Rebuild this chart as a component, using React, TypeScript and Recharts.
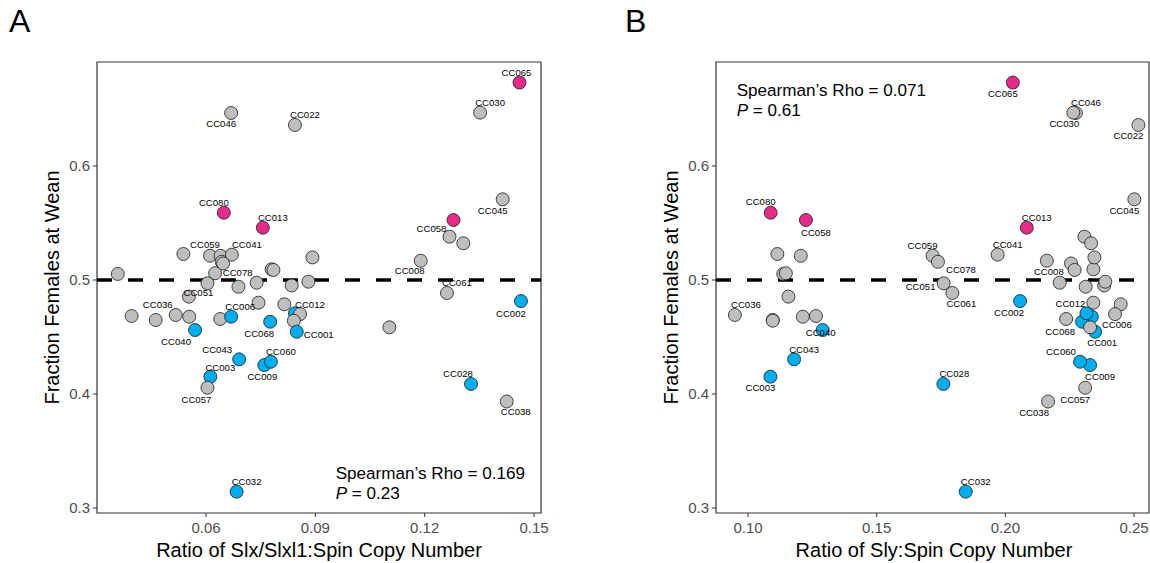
import React from "react";
import { ScatterChart, Scatter, XAxis, YAxis, ReferenceLine, ReferenceArea } from "recharts";

// Collaborative Cross strains — "" where the point carries no label
const strains = [
  "CC046", "CC022", "CC080", "CC013", "CC065", "CC030", "CC045", "CC058", "", "",
  "CC008", "CC061", "CC002", "CC038", "CC028", "CC032", "", "", "CC059", "",
  "CC041", "CC078", "", "", "CC051", "", "", "", "", "",
  "", "", "", "", "", "", "", "CC036", "", "",
  "CC006", "CC040", "CC068", "CC012", "", "", "CC001", "CC043", "CC003", "CC057",
  "CC009", "CC060", "",
];

// "female" = female-biased (pink), "male" = male-biased (blue), "ns" = grey
const groups = [
  "ns", "ns", "female", "female", "female", "ns", "ns", "female", "ns", "ns",
  "ns", "ns", "male", "ns", "male", "male", "ns", "ns", "ns", "ns",
  "ns", "ns", "ns", "ns", "ns", "ns", "ns", "ns", "ns", "ns",
  "ns", "ns", "ns", "ns", "ns", "ns", "ns", "ns", "ns", "ns",
  "male", "male", "male", "male", "ns", "ns", "male", "male", "male", "ns",
  "male", "male", "ns",
];

const slxRatio = [
  0.0669, 0.0844, 0.0649, 0.0756, 0.146, 0.1352, 0.1414, 0.1279, 0.1268, 0.1306,
  0.1189, 0.1261, 0.1464, 0.1425, 0.1327, 0.0684, 0.0358, 0.0538, 0.0611, 0.064,
  0.0671, 0.0643, 0.0647, 0.0625, 0.0604, 0.0553, 0.0689, 0.0739, 0.0744, 0.078,
  0.0785, 0.0815, 0.0835, 0.0881, 0.0892, 0.0396, 0.0462, 0.0517, 0.0554, 0.0639,
  0.0669, 0.057, 0.0776, 0.0844, 0.0858, 0.0841, 0.0849, 0.0691, 0.0612, 0.0604,
  0.076, 0.0778, 0.1103,
];

const slyRatio = [
  0.2274, 0.2517, 0.1088, 0.2083, 0.2029, 0.2264, 0.2501, 0.1225, 0.2307, 0.2333,
  0.2161, 0.1794, 0.2057, 0.2166, 0.1759, 0.1846, 0.1137, 0.1114, 0.1717, 0.1205,
  0.197, 0.1738, 0.2255, 0.1147, 0.176, 0.1157, 0.2312, 0.2211, 0.2342, 0.2342,
  0.2269, 0.2448, 0.2384, 0.2388, 0.2346, 0.1264, 0.1096, 0.0949, 0.1213, 0.2236,
  0.2336, 0.129, 0.2298, 0.2315, 0.2426, 0.1096, 0.2349, 0.1179, 0.1087, 0.231,
  0.2329, 0.229, 0.2329,
];

const femaleFraction = [
  0.6465, 0.636, 0.559, 0.5459, 0.6732, 0.6468, 0.5708, 0.5526, 0.538, 0.5322,
  0.5169, 0.4886, 0.4815, 0.3934, 0.4088, 0.3143, 0.5053, 0.5228, 0.5213, 0.5212,
  0.5222, 0.516, 0.5145, 0.5059, 0.4971, 0.4854, 0.4941, 0.4976, 0.4801, 0.5094,
  0.5088, 0.4787, 0.4952, 0.4985, 0.5198, 0.4684, 0.4649, 0.4693, 0.4678, 0.4658,
  0.4678, 0.4561, 0.4634, 0.4708, 0.4701, 0.4643, 0.4546, 0.4304, 0.4152, 0.4055,
  0.4254, 0.4283, 0.4585,
];

const yTicks = [0.3, 0.4, 0.5, 0.6];
const slxTicks = [0.06, 0.09, 0.12, 0.15];
const slyTicks = [0.1, 0.15, 0.2, 0.25];

const FONT = "'Liberation Sans', Arial, Helvetica, sans-serif";
const FILL: Record<string, string> = { ns: "#bebebe", male: "#00aeef", female: "#e52a89" };

// label placement (px from the point) as ggrepel put them
const LABELS_A: Record<string, [number, number]> = {
  CC046: [-10, 11], CC022: [10, -10], CC080: [-10, -10], CC013: [10, -10],
  CC065: [-3, -10], CC030: [10, -10], CC045: [-10, 11], CC058: [-22, 8],
  CC008: [-11, 10], CC061: [10, -10], CC002: [-10, 12], CC038: [9, 10],
  CC028: [-13, -10], CC032: [10, -10], CC059: [-5, -11], CC041: [15, -10],
  CC078: [16, 11], CC051: [-9, 9], CC036: [-18, -10], CC006: [9, -10],
  CC040: [-19, 11], CC068: [-11, 12], CC012: [15, -9], CC001: [22, 3],
  CC043: [-22, -10], CC003: [10, -9], CC057: [-11, 12], CC009: [-2, 11],
  CC060: [10, -10],
};

const LABELS_B: Record<string, [number, number]> = {
  CC065: [-10, 11], CC046: [10, -10], CC030: [-9, 11], CC022: [-10, 11],
  CC045: [-10, 11], CC080: [-10, -11], CC058: [10, 12], CC013: [10, -10],
  CC059: [-10, -10], CC041: [10, -10], CC008: [2, 11], CC078: [23, 8],
  CC051: [-23, 3], CC061: [9, 11], CC002: [-11, 11], CC012: [-16, -10],
  CC068: [-22, 10], CC006: [25, 8], CC001: [7, 11], CC060: [-19, -10],
  CC009: [10, 11], CC057: [-10, 12], CC038: [-14, 11], CC028: [11, -10],
  CC032: [10, -10], CC036: [11, -10], CC040: [-2, 2], CC043: [10, -10],
  CC003: [-10, 11],
};

const Y_DOMAIN: [number, number] = [0.29561, 0.69122];

const Dot = (props: any) => {
  const { cx, cy, payload } = props;
  if (cx == null || cy == null) return null;
  return (
    <circle cx={cx} cy={cy} r={6.5} fill={FILL[payload.group]} stroke="#1a1a1a" strokeWidth={0.8} />
  );
};

const makeLabel = (offsets: Record<string, [number, number]>) => (props: any) => {
  const { cx, cy, payload } = props;
  if (cx == null || cy == null || !payload.strain) return null;
  const o = offsets[payload.strain] ?? [0, -10];
  return (
    <text
      x={cx + o[0]}
      y={cy + o[1]}
      textAnchor="middle"
      dominantBaseline="central"
      fontSize={9.6}
      fontFamily={FONT}
      fill="#000"
    >
      {payload.strain}
    </text>
  );
};

type PanelProps = {
  xs: number[];
  xDomain: [number, number];
  xTicks: number[];
  xDigits: number;
  yAxisWidth: number;
  right: number;
  labels: Record<string, [number, number]>;
};

function Panel({ xs, xDomain, xTicks, xDigits, yAxisWidth, right, labels }: PanelProps) {
  const data = strains.map((s, i) => ({
    strain: s,
    group: groups[i],
    x: xs[i],
    y: femaleFraction[i],
  }));
  const tickStyle = { fill: "#4d4d4d", fontSize: 15, fontFamily: FONT };
  return (
    <ScatterChart width={575} height={563} margin={{ top: 62, right, bottom: 0, left: 0 }}>
      <XAxis
        type="number"
        dataKey="x"
        domain={xDomain}
        ticks={xTicks}
        allowDataOverflow
        height={50}
        axisLine={false}
        tickSize={4}
        tickMargin={5}
        tickLine={{ stroke: "#333" }}
        tick={tickStyle}
        tickFormatter={(v: number) => v.toFixed(xDigits)}
      />
      <YAxis
        type="number"
        dataKey="y"
        domain={Y_DOMAIN}
        ticks={yTicks}
        allowDataOverflow
        width={yAxisWidth}
        axisLine={false}
        tickSize={4}
        tickMargin={3}
        tickLine={{ stroke: "#333" }}
        tick={tickStyle}
        tickFormatter={(v: number) => v.toFixed(1)}
      />
      <ReferenceArea
        x1={xDomain[0]}
        x2={xDomain[1]}
        y1={Y_DOMAIN[0]}
        y2={Y_DOMAIN[1]}
        fill="none"
        stroke="#333"
        strokeWidth={1.2}
      />
      <ReferenceLine y={0.5} stroke="#000" strokeWidth={3.5} strokeDasharray="15 16" />
      <Scatter data={data} shape={Dot} isAnimationActive={false} />
      <Scatter data={data} shape={makeLabel(labels)} isAnimationActive={false} />
    </ScatterChart>
  );
}

export default function App() {
  const txt = { fontFamily: FONT, fill: "#000" };
  return (
    <div style={{ position: "fixed", left: 0, top: 0, width: 1150, height: 563, background: "#fff" }}>
      <div style={{ position: "absolute", left: 0, top: 0 }}>
        <Panel
          xs={slxRatio}
          xDomain={[0.0301, 0.1519]}
          xTicks={slxTicks}
          xDigits={2}
          yAxisWidth={97}
          right={34}
          labels={LABELS_A}
        />
      </div>
      <div style={{ position: "absolute", left: 575, top: 0 }}>
        <Panel
          xs={slyRatio}
          xDomain={[0.08756, 0.2558]}
          xTicks={slyTicks}
          xDigits={2}
          yAxisWidth={141}
          right={1}
          labels={LABELS_B}
        />
      </div>
      <svg
        width={1150}
        height={563}
        style={{ position: "absolute", left: 0, top: 0, pointerEvents: "none" }}
      >
        <text x={9} y={32} fontSize={32} {...txt}>A</text>
        <text x={625} y={32} fontSize={32} {...txt}>B</text>

        <text x={52} y={287.5} fontSize={20} textAnchor="middle" dominantBaseline="central"
          transform="rotate(-90 52 287.5)" {...txt}>Fraction Females at Wean</text>
        <text x={671} y={287.5} fontSize={20} textAnchor="middle" dominantBaseline="central"
          transform="rotate(-90 671 287.5)" {...txt}>Fraction Females at Wean</text>

        <text x={319} y={556.7} fontSize={20} textAnchor="middle" {...txt}>
          Ratio of Slx/Slxl1:Spin Copy Number
        </text>
        <text x={934} y={556.7} fontSize={20} textAnchor="middle" {...txt}>
          Ratio of Sly:Spin Copy Number
        </text>

        <text x={335.7} y={479} fontSize={17.1} {...txt}>Spearman’s Rho = 0.169</text>
        <text x={335.7} y={499} fontSize={17.1} {...txt}>
          <tspan fontStyle="italic">P</tspan> = 0.23
        </text>
        <text x={736.7} y={96} fontSize={17.1} {...txt}>Spearman’s Rho = 0.071</text>
        <text x={736.7} y={116} fontSize={17.1} {...txt}>
          <tspan fontStyle="italic">P</tspan> = 0.61
        </text>
      </svg>
    </div>
  );
}
